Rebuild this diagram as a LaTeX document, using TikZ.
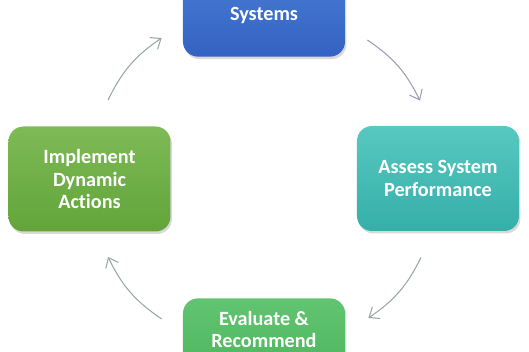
\documentclass[tikz,border=0pt]{standalone}
\usepackage{fontspec}
\setmainfont{Carlito}[Ligatures=NoCommon]
\usepackage{xcolor}
\usetikzlibrary{positioning,calc,arrows.meta,shadows}

\definecolor{sysblueA}{HTML}{4C82DA}
\definecolor{sysblueB}{HTML}{3462C2}
\definecolor{tealA}{HTML}{58C8C0}
\definecolor{tealB}{HTML}{34AFA8}
\definecolor{leafA}{HTML}{7EBA56}
\definecolor{leafB}{HTML}{62A43A}
\definecolor{mintA}{HTML}{62C471}
\definecolor{mintB}{HTML}{45B056}
\definecolor{arrowgrey}{HTML}{98A8A4}
\definecolor{arrowlilac}{HTML}{9C9CB4}

\begin{document}
\begin{tikzpicture}[
    every node/.style={font=\fontsize{11.5}{12.6}\selectfont\bfseries, text=white},
    stage/.style={rounded corners=0.3cm, minimum width=3.24cm, minimum height=2.1cm,
        inner sep=0pt, align=center,
        drop shadow={opacity=0.3, shadow xshift=0.03cm, shadow yshift=-0.05cm}},
    cycle/.style={arrowgrey, line width=0.6pt, -{Straight Barb[length=5pt,width=8pt]}},
]
\useasboundingbox (0,0) rectangle (10.58,7.04);
\clip (0,0) rectangle (10.58,7.04);

% =====================================================================
% The four stages of the loop (top and bottom run off the page)
% =====================================================================
\node[stage, top color=sysblueA, bottom color=sysblueB, anchor=south,
    text height=1.38cm, text depth=0.72cm] (sys) at (5.28,5.90) {Systems};
\node[stage, top color=tealA, bottom color=tealB] (ass) at (8.76,3.47)
    {Assess System\\Performance};
\node[stage, top color=mintA, bottom color=mintB, anchor=north,
    text height=0.98cm, text depth=1.12cm] (eva) at (5.28,1.08)
    {Evaluate \&\\Recommend};
\node[stage, top color=leafA, bottom color=leafB] (imp) at (1.79,3.46)
    {Implement\\Dynamic\\Actions};

% =====================================================================
% Clockwise arrows in the gaps between the stages
% =====================================================================
\coordinate (a1s) at ($(sys.south east)+(0.44,0.34)$);
\coordinate (a1e) at ($(ass.north)+(-0.36,0.50)$);
\coordinate (a2s) at ($(ass.south)+(-0.34,-0.52)$);
\coordinate (a2e) at ($(eva.north east)+(0.46,-0.40)$);
\coordinate (a3s) at ($(eva.north west)+(-0.42,-0.42)$);
\coordinate (a3e) at ($(imp.south)+(0.37,-0.50)$);
\coordinate (a4s) at ($(imp.north)+(0.37,0.52)$);
\coordinate (a4e) at ($(sys.south west)+(-0.42,0.38)$);

\draw[cycle, arrowlilac] (a1s) to[bend left=15] (a1e);
\draw[cycle] (a2s) to[bend left=15] (a2e);
\draw[cycle] (a3s) to[bend left=15] (a3e);
\draw[cycle] (a4s) to[bend left=15] (a4e);

\end{tikzpicture}
\end{document}
